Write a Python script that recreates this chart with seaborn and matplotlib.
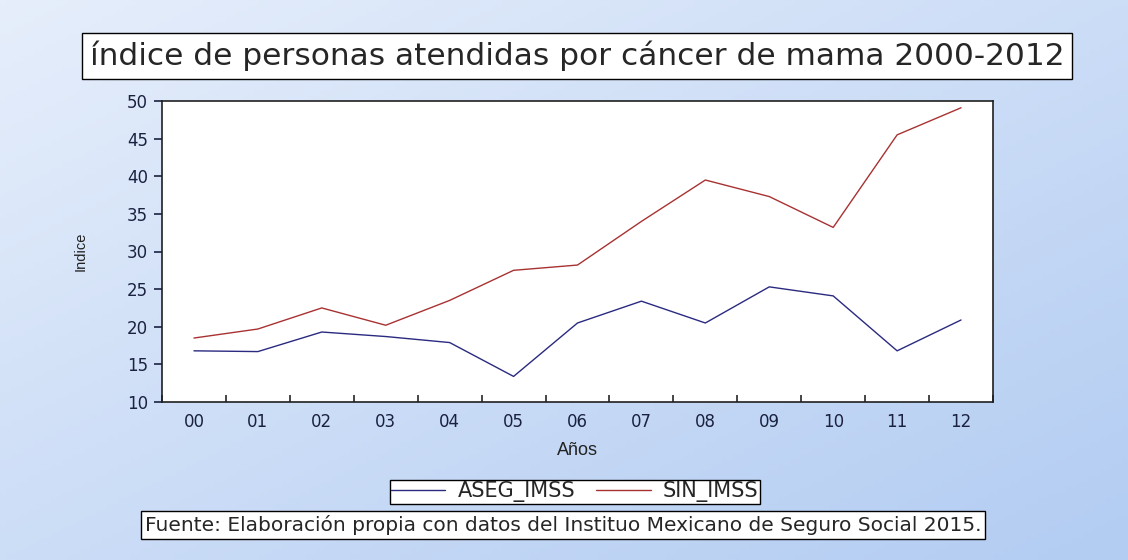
import numpy as np
import pandas as pd
import seaborn as sns
import matplotlib.pyplot as plt
from matplotlib.lines import Line2D

years = ['00', '01', '02', '03', '04', '05', '06', '07', '08', '09', '10', '11', '12']
aseg_imss = [16.8, 16.7, 19.3, 18.7, 17.9, 13.4, 20.5, 23.4, 20.5, 25.3, 24.1, 16.8, 20.9]
sin_imss = [18.5, 19.7, 22.5, 20.2, 23.5, 27.5, 28.2, 34.0, 39.5, 37.3, 33.2, 45.5, 49.1]
series = ['ASEG_IMSS', 'SIN_IMSS']
colors = {'ASEG_IMSS': '#2a2a80', 'SIN_IMSS': '#a83232'}

df = pd.DataFrame({
    'pos': list(range(len(years))) * 2,
    'valor': aseg_imss + sin_imss,
    'serie': [series[0]] * len(years) + [series[1]] * len(years),
})

sns.set_style('ticks')
plt.rcParams['font.family'] = ['DejaVu Sans']

fig = plt.figure(figsize=(11.28, 5.6), dpi=100)

# fondo degradado azul
bg = fig.add_axes([0, 0, 1, 1], zorder=-10)
gx = np.linspace(0, 1, 200)
gy = np.linspace(0, 1, 100)
X, Y = np.meshgrid(gx, gy)
t = np.clip(0.5 * X + 0.5 * Y, 0, 1)
top = np.array([230, 238, 251]) / 255
bot = np.array([178, 204, 242]) / 255
img = top[None, None, :] * (1 - t[..., None]) + bot[None, None, :] * t[..., None]
bg.imshow(img, aspect='auto', extent=[0, 1, 0, 1], origin='upper')
bg.axis('off')

ax = fig.add_axes([162 / 1128, 1 - 402 / 560, (993 - 162) / 1128, (402 - 101) / 560])
ax.set_facecolor('white')
sns.lineplot(data=df, x='pos', y='valor', hue='serie', palette=colors,
             linewidth=1.0, legend=False, ax=ax)

ax.set_xlim(-0.5, len(years) - 0.5)
ax.set_ylim(10, 50)
ax.set_yticks(range(10, 51, 5))
ax.set_xticks(range(len(years)))
ax.set_xticklabels(years)
ax.set_xticks(np.arange(-0.5, len(years), 1), minor=True)
ax.tick_params(axis='x', which='major', length=0, pad=8, labelsize=12, colors='#1a2240')
ax.tick_params(axis='x', which='minor', direction='in', length=5, width=1.2)
ax.tick_params(axis='y', direction='out', length=6, width=1.2, pad=4,
               labelsize=12, colors='#1a2240')
for s in ax.spines.values():
    s.set_linewidth(1.2)
    s.set_color('#202020')
ax.set_xlabel('Años', fontsize=13, labelpad=8, color='#222222',
              family='Liberation Sans')
ax.set_ylabel('Indice', fontsize=10.5, labelpad=28, color='#222222',
              family='Liberation Sans')

fig.text(577 / 1128, 1 - 56 / 560, 'índice de personas atendidas por cáncer de mama 2000-2012',
         ha='center', va='center', fontsize=22.5,
         bbox=dict(boxstyle='square,pad=0.25', facecolor='white', edgecolor='black', linewidth=1))

handles = [Line2D([], [], color=colors[s], lw=1) for s in series]
fig.legend(handles, series, loc='center', bbox_to_anchor=(575 / 1128, 1 - 492 / 560),
           ncol=2, frameon=True, fancybox=False, edgecolor='black', fontsize=15,
           handlelength=2.6, columnspacing=1.0, borderpad=0.05, handletextpad=0.6,
           borderaxespad=0, framealpha=1)

fig.text(563 / 1128, 1 - 525 / 560,
         'Fuente: Elaboración propia con datos del Instituo Mexicano de Seguro Social 2015.',
         ha='center', va='center', fontsize=14.5,
         bbox=dict(boxstyle='square,pad=0.2', facecolor='white', edgecolor='black', linewidth=1))

fig.savefig('out.png', dpi=100)
